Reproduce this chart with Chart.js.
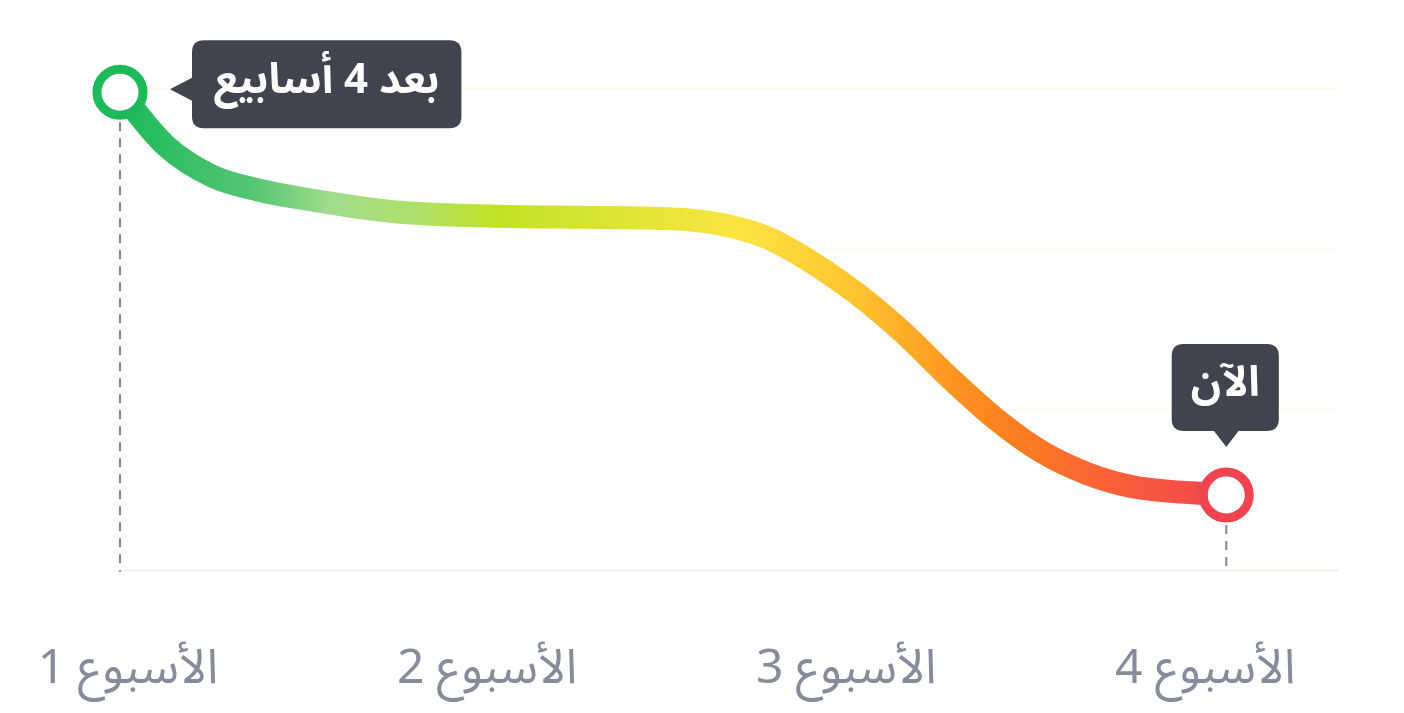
<!DOCTYPE html>
<html lang="ar">
<head>
<meta charset="utf-8">
<script src="https://cdn.jsdelivr.net/npm/chart.js@4.4.1/dist/chart.umd.min.js"></script>
<style>
  html, body { margin: 0; padding: 0; background: #ffffff; }
  #wrap { width: 1404px; height: 713px; position: relative; }
  canvas { direction: rtl; }
</style>
</head>
<body>
<div id="wrap"><canvas id="c" dir="rtl"></canvas></div>
<script>
// ---- data ----
const weekTicks = [1, 2, 3, 4];
const weekLabels = ['الأسبوع 1', 'الأسبوع 2', 'الأسبوع 3', 'الأسبوع 4'];
const sampleWeeks = [1, 1.125, 1.25, 1.375, 1.5, 1.75, 2, 2.25, 2.5, 2.625, 2.75, 2.875,
                     3, 3.125, 3.25, 3.375, 3.5, 3.625, 3.75, 4];
const progressValues = [2.98, 2.645, 2.457, 2.37, 2.315, 2.233, 2.208, 2.20, 2.19, 2.158, 2.077, 1.92,
                        1.72, 1.478, 1.198, 0.942, 0.736, 0.599, 0.518, 0.468];
const startCallout = 'بعد 4 أسابيع';
const endCallout = 'الآن';

const FONT = "'Noto Sans Arabic', 'Noto Sans', 'DejaVu Sans', sans-serif";
const points = sampleWeeks.map((w, i) => ({ x: w, y: progressValues[i] }));
const lastIdx = points.length - 1;

const gradStops = [
  [0.00, '#1db95a'], [0.12, '#55c673'], [0.19, '#a0dc8c'], [0.27, '#b0e06a'],
  [0.34, '#c1e224'], [0.45, '#dce533'], [0.56, '#fde444'], [0.67, '#fec22f'],
  [0.76, '#fd921f'], [0.81, '#fc7e22'], [0.89, '#fa6236'], [1.00, '#ef4450']
];
let gradCache = null;
function lineGradient(chart) {
  const xs = chart.scales.x;
  if (!chart.chartArea || !xs) return '#fd921f';
  const x0 = xs.getPixelForValue(sampleWeeks[0]);
  const x1 = xs.getPixelForValue(sampleWeeks[lastIdx]);
  const key = x0 + ':' + x1;
  if (gradCache && gradCache.key === key) return gradCache.g;
  const g = chart.ctx.createLinearGradient(x0, 0, x1, 0);
  gradStops.forEach(s => g.addColorStop(s[0], s[1]));
  gradCache = { key, g };
  return g;
}

function roundRect(ctx, x, y, w, h, r) {
  ctx.beginPath();
  ctx.moveTo(x + r, y);
  ctx.lineTo(x + w - r, y);
  ctx.quadraticCurveTo(x + w, y, x + w, y + r);
  ctx.lineTo(x + w, y + h - r);
  ctx.quadraticCurveTo(x + w, y + h, x + w - r, y + h);
  ctx.lineTo(x + r, y + h);
  ctx.quadraticCurveTo(x, y + h, x, y + h - r);
  ctx.lineTo(x, y + r);
  ctx.quadraticCurveTo(x, y, x + r, y);
  ctx.closePath();
}

const markPlugin = {
  id: 'marks',
  afterDatasetsDraw(chart) {
    const ctx = chart.ctx;
    const meta = chart.getDatasetMeta(0);
    const p0 = meta.data[0], pN = meta.data[lastIdx];
    const bottom = chart.chartArea.bottom;
    const outer = 28;
    ctx.save();
    // dashed drop lines
    ctx.strokeStyle = '#858495';
    ctx.lineWidth = 2;
    ctx.setLineDash([9, 7]);
    [p0, pN].forEach(p => {
      ctx.beginPath();
      ctx.moveTo(p.x, p.y + outer + 2);
      ctx.lineTo(p.x, bottom + 2);
      ctx.stroke();
    });
    ctx.setLineDash([]);

    ctx.font = 'bold 42px ' + FONT;
    ctx.textAlign = 'center';
    ctx.textBaseline = 'middle';
    ctx.direction = 'rtl';
    const bg = '#41444e';

    // callout at first point (arrow pointing left)
    let tw = ctx.measureText(startCallout).width;
    let bw = tw + 44, bh = 88;
    let bx = p0.x + 72, by = p0.y - 52;
    ctx.fillStyle = bg;
    roundRect(ctx, bx, by, bw, bh, 12);
    ctx.fill();
    ctx.beginPath();
    ctx.moveTo(bx + 1, p0.y - 15);
    ctx.lineTo(p0.x + 50, p0.y - 3);
    ctx.lineTo(bx + 1, p0.y + 9);
    ctx.closePath();
    ctx.fill();
    ctx.fillStyle = '#ffffff';
    ctx.fillText(startCallout, bx + bw / 2, by + bh / 2 + 2);

    // callout above last point (arrow pointing down)
    tw = ctx.measureText(endCallout).width;
    bw = Math.max(tw + 38, 100); bh = 87;
    bx = pN.x - bw / 2 - 1; by = pN.y - 151;
    ctx.fillStyle = bg;
    roundRect(ctx, bx, by, bw, bh, 12);
    ctx.fill();
    ctx.beginPath();
    ctx.moveTo(pN.x - 13, by + bh - 1);
    ctx.lineTo(pN.x, pN.y - 48);
    ctx.lineTo(pN.x + 13, by + bh - 1);
    ctx.closePath();
    ctx.fill();
    ctx.fillStyle = '#ffffff';
    ctx.fillText(endCallout, bx + bw / 2, by + bh / 2 + 2);
    ctx.restore();
  }
};

new Chart(document.getElementById('c'), {
  type: 'line',
  data: {
    datasets: [{
      data: points,
      borderWidth: 23,
      borderColor: ctx => lineGradient(ctx.chart),
      borderCapStyle: 'round',
      cubicInterpolationMode: 'monotone',
      fill: 'start',
      backgroundColor: '#ffffff',
      clip: false,
      pointRadius: c => (c.dataIndex === 0 || c.dataIndex === lastIdx) ? 23 : 0,
      pointHoverRadius: c => (c.dataIndex === 0 || c.dataIndex === lastIdx) ? 23 : 0,
      pointBorderWidth: 9,
      pointHoverBorderWidth: 9,
      pointBackgroundColor: '#ffffff',
      pointBorderColor: c => c.dataIndex === 0 ? '#1db95a' : '#ef4450',
      pointHoverBorderColor: c => c.dataIndex === 0 ? '#1db95a' : '#ef4450'
    }]
  },
  options: {
    responsive: true,
    maintainAspectRatio: false,
    animation: false,
    events: [],
    layout: { padding: { left: 118, right: 66, top: 89, bottom: 0 } },
    plugins: { legend: { display: false }, tooltip: { enabled: false } },
    scales: {
      x: {
        type: 'linear', display: false, min: 0.9946, max: 4.303
      },
      xl: {
        type: 'linear', position: 'bottom', min: 0.972, max: 4.370,
        afterBuildTicks: s => { s.ticks = weekTicks.map(v => ({ value: v })); },
        afterFit: s => { s.height = 143; s.paddingLeft = 0; s.paddingRight = 0; },
        grid: { display: false, drawTicks: false },
        border: { display: true, color: 'rgba(200,202,215,0.35)', dash: [2, 4], width: 1, z: 1 },
        ticks: {
          padding: 77,
          color: '#878c9a',
          font: { family: FONT, size: 48 },
          maxRotation: 0,
          autoSkip: false,
          callback: (v, i) => weekLabels[i]
        }
      },
      y: {
        min: 0, max: 3,
        afterFit: s => { s.width = 0; s.paddingTop = 0; s.paddingBottom = 0; },
        ticks: { display: false, stepSize: 1 },
        grid: { color: 'rgba(250, 226, 120, 0.22)', lineWidth: 1.5, drawTicks: false },
        border: { display: false }
      }
    }
  },
  plugins: [markPlugin]
});
</script>
</body>
</html>
